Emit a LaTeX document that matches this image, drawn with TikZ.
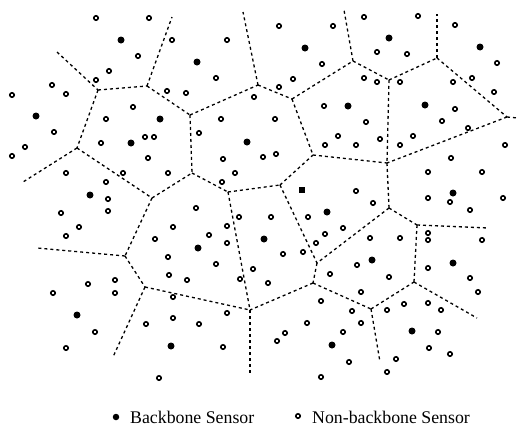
\documentclass[tikz,border=0pt]{standalone}
\usepackage{fontspec}
\setmainfont{Liberation Serif}
\begin{document}
\begin{tikzpicture}[x=1pt,y=-1pt,
  edge/.style={line width=1.3pt, dash pattern=on 3pt off 3pt},
  bb/.style={circle, fill=black, inner sep=0pt, minimum size=7pt},
  nb/.style={circle, draw=black, line width=1.6pt, fill=white, inner sep=0pt, minimum size=4.4pt},
  sq/.style={rectangle, fill=black, inner sep=0pt, minimum size=5.5pt},
  lab/.style={anchor=base west, inner sep=0pt, font=\fontsize{17.8}{20}\selectfont}]
\useasboundingbox (0,0) rectangle (519,426);
% Voronoi vertices
\coordinate (A) at (98,90);
\coordinate (B) at (147,86);
\coordinate (C) at (190,115);
\coordinate (D) at (258,85);
\coordinate (E) at (292,99);
\coordinate (F) at (353,61);
\coordinate (G) at (389,80);
\coordinate (H) at (437,58);
\coordinate (I) at (507,117);
\coordinate (J) at (77,148);
\coordinate (K) at (152,198);
\coordinate (L) at (125,256);
\coordinate (M) at (192,173);
\coordinate (N) at (228,192);
\coordinate (O) at (280,185);
\coordinate (P) at (313,155);
\coordinate (Q) at (387,163);
\coordinate (R) at (389,208);
\coordinate (S) at (417,225);
\coordinate (T) at (317,263);
\coordinate (U) at (313,283);
\coordinate (V) at (250,310);
\coordinate (W) at (371,309);
\coordinate (X) at (414,282);
\coordinate (Y) at (145,287);
% free ends
\coordinate (a1) at (57,52);
\coordinate (a2) at (172,17);
\coordinate (a3) at (243,12);
\coordinate (a4) at (344,10);
\coordinate (a5) at (437,14);
\coordinate (a6) at (518,118);
\coordinate (a7) at (23,182);
\coordinate (a8) at (37,248);
\coordinate (a9) at (113,357);
\coordinate (a10) at (250,373);
\coordinate (a11) at (380,362);
\coordinate (a12) at (477,318);
\coordinate (a13) at (488,228);
% edges
\foreach \u/\v in {a1/A, A/B, A/J, B/a2, B/C, C/D, C/M, D/a3, D/E, E/F, E/P, F/a4, F/G, G/H, G/Q, H/a5, H/I, I/a6, I/Q, J/a7, J/K, K/M, K/L, L/a8, L/Y, Y/V, Y/a9, M/N, N/O, N/V, O/P, O/T, P/Q, Q/R, R/S, S/a13, S/X, R/T, T/U, U/V, U/W, W/X, W/a11, X/a12, V/a10}
  \draw[edge] (\u) -- (\v);
% backbone sensors
\foreach \p/\q [count=\i] in {121/40, 36/116, 160/119, 197/62, 305/48, 348/106, 389/38, 480/47, 425/105, 131/143, 90/195, 247/142, 327/212, 264/239, 198/248, 453/193, 372/260, 453/263, 77/315, 171/346, 332/345, 412/331}
  \node[bb] (f\i) at (\p,\q) {};
\node[sq] (fs) at (302,190) {};
% non-backbone sensors
\foreach \p/\q [count=\i] in {96/18, 149/18, 172/40, 138/56, 109/71, 96/80, 52/85, 66/94, 12/95, 167/91, 133/107, 106/119, 54/132, 145/137, 154/137,
227/40, 216/78, 186/93, 254/97, 221/119, 199/133, 275/119, 279/87, 293/79, 322/64, 279/26, 333/26, 324/106, 338/136,
364/17, 418/16, 455/25, 377/52, 407/54, 497/63, 364/78, 377/82, 400/82, 453/82, 472/78, 494/92, 455/109, 366/122, 442/121, 468/128, 380/139, 413/136,
101/143, 25/147, 12/156, 148/158, 66/173, 123/173, 168/173, 106/182, 108/199, 108/211, 61/213, 79/227, 173/227, 66/236, 155/239, 168/257,
223/159, 263/157, 276/154, 235/173, 222/182, 325/145, 196/208, 239/217, 271/217, 308/217, 227/226, 343/228, 209/235, 325/234, 227/243, 316/243, 283/254, 303/252, 216/264, 253/269,
356/145, 400/145, 505/145, 451/158, 428/172, 482/172, 356/191, 373/203, 428/198, 450/202, 470/210, 503/198, 370/238, 400/238, 428/233, 428/240, 482/240, 357/265, 428/268,
169/275, 88/284, 115/280, 53/293, 115/293, 173/297, 173/318, 146/324, 95/332, 66/348, 159/378,
187/280, 240/279, 268/283, 330/274, 227/313, 321/301, 199/324, 307/323, 285/333, 277/341, 343/332, 223/347, 321/377,
389/277, 470/278, 478/292, 361/292, 352/311, 387/310, 404/304, 428/303, 441/310, 361/323, 438/332, 429/348, 450/354, 349/362, 396/359, 387/372}
  \node[nb] (h\i) at (\p,\q) {};
% legend
\node[bb, minimum size=6.5pt] (lf) at (116,417) {};
\node[lab] (lt1) at (130,423) {Backbone Sensor};
\node[nb] (ln) at (298,416) {};
\node[lab] (lt2) at (312,423) {Non-backbone Sensor};
\end{tikzpicture}
\end{document}
